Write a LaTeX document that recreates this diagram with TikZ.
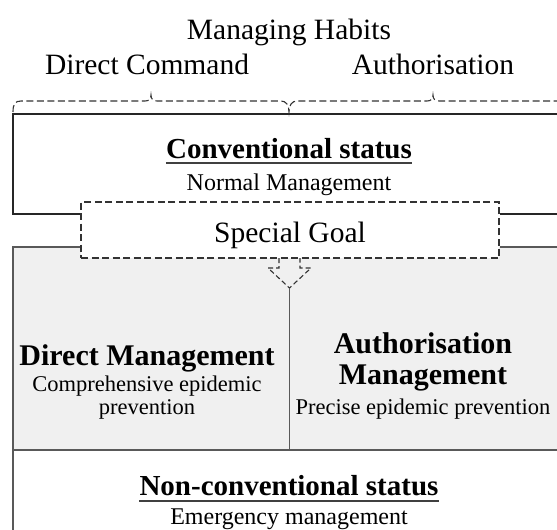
\documentclass[tikz,border=0pt]{standalone}
\usepackage{fontspec}
\setmainfont{Liberation Serif}
\begin{document}
\begin{tikzpicture}[x=1pt,y=-1pt,
  lbl/.style={inner sep=0pt, anchor=base, text=black},
  big/.style={lbl, font=\fontsize{29.5}{32}\selectfont},
  small/.style={lbl, font=\fontsize{22.5}{25}\selectfont},
  mid/.style={lbl, font=\fontsize{24}{26}\selectfont},
  boldtxt/.style={lbl, font=\fontsize{29}{32}\selectfont\bfseries},
  headtxt/.style={lbl, font=\fontsize{30}{32}\selectfont\bfseries},
  outline/.style={draw=black!85, line width=1.2pt},
  lowline/.style={draw=black!65, line width=1.2pt},
  dashline/.style={draw=black!80, line width=1.1pt, dash pattern=on 7pt off 3.5pt},
  ul/.style={draw=black!75, line width=1.3pt}]
\useasboundingbox (0,0) rectangle (557,530);
\fill[white] (0,0) rectangle (557,530);
% grey band
\fill[gray!12] (13,247) rectangle (557,450);
% named corner points
\coordinate (tl) at (13,114);
\coordinate (tr) at (557,114);
\coordinate (ml) at (13,214);
\coordinate (mr) at (557,214);
\coordinate (gl) at (13,247);
\coordinate (gr) at (557,247);
\coordinate (bl) at (13,450);
\coordinate (br) at (557,450);
\coordinate (bot) at (13,530);
% special goal box
\node[draw=black!80, line width=1.1pt, dash pattern=on 7pt off 3.5pt, fill=white,
      minimum width=418pt, minimum height=56pt, inner sep=0pt] (goal) at (290,230) {};
% solid outlines
\draw[outline] (tr) -- (tl) -- (ml) -- (ml -| goal.west);
\draw[outline] (mr -| goal.east) -- (mr);
\draw[lowline] (gl -| goal.west) -- (gl) -- (bot);
\draw[lowline] (gr -| goal.east) -- (gr);
\draw[lowline] (bl) -- (br);
% Y arrow
\coordinate (tip) at (289.5,288);
\coordinate (divb) at (289.5,450);
\draw[draw=black!80, line width=1.1pt, dash pattern=on 5pt off 3pt]
  (279,258) -- (279,268) -- (268,268) -- (tip) -- (311,268) -- (300,268) -- (300,258);
\draw[lowline] (tip) -- (divb);
% braces
\draw[dashline] (13,112) .. controls (13,104) and (15,101) .. (21,101) -- (145,101)
  .. controls (149,101) and (151,99) .. (151,95) .. controls (151,99) and (153,101) .. (157,101)
  -- (281,101) .. controls (286,101) and (289,105) .. (289,112)
  .. controls (289,105) and (292,101) .. (297,101) -- (427,101)
  .. controls (431,101) and (433,99) .. (433,95) .. controls (433,99) and (435,101) .. (439,101)
  -- (560,101);
% texts
\node[big] (title) at (289,39) {Managing Habits};
\node[big] (dc) at (147,74) {Direct Command};
\node[big] (au) at (433,74) {Authorisation};
\node[boldtxt] (conv) at (289,158) {Conventional status};
\draw[ul] ([yshift=-5pt]conv.base west) -- ([yshift=-5pt]conv.base east);
\node[mid] (norm) at (289,190) {Normal Management};
\node[big] (goaltxt) at (290,242) {Special Goal};
\node[headtxt] (dm) at (147,365) {Direct Management};
\node[small] (ce) at (147,391) {Comprehensive epidemic};
\node[small] (pv) at (147,414) {prevention};
\node[headtxt] (am1) at (423,353) {Authorisation};
\node[headtxt] (am2) at (423,384) {Management};
\node[small] (pe) at (423,414) {Precise epidemic prevention};
\node[boldtxt] (nc) at (289,495) {Non-conventional status};
\draw[ul] ([yshift=-6pt]nc.base west) -- ([yshift=-6pt]nc.base east);
\node[mid] (em) at (289,524) {Emergency management};
\end{tikzpicture}
\end{document}
